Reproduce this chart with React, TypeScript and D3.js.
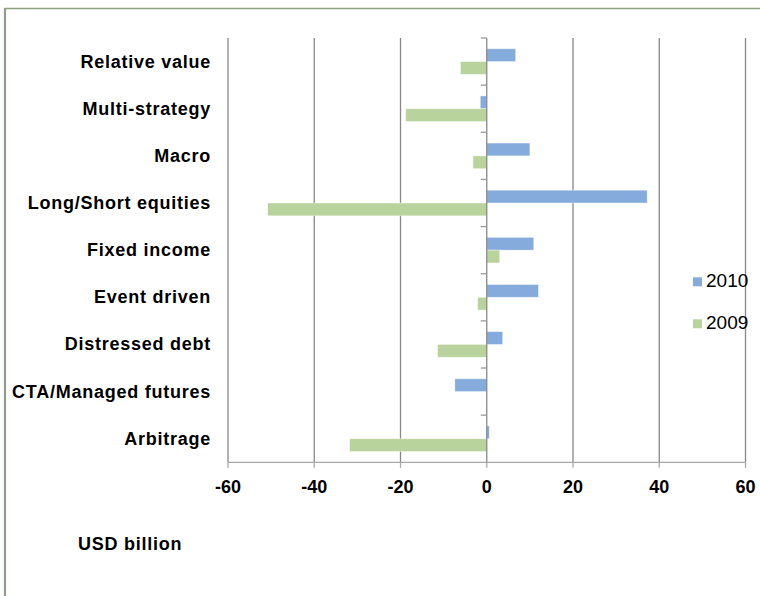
import React from "react";
import * as d3 from "d3";

const categories = [
  "Relative value",
  "Multi-strategy",
  "Macro",
  "Long/Short equities",
  "Fixed income",
  "Event driven",
  "Distressed debt",
  "CTA/Managed futures",
  "Arbitrage",
];
const values2010 = [6.7, -1.5, 10.0, 37.2, 10.9, 12.0, 3.7, -7.4, 0.6];
const values2009 = [-6.1, -18.8, -3.2, -50.8, 3.0, -2.1, -11.4, 0, -31.8];
const xTicks = [-60, -40, -20, 0, 20, 40, 60];
const seriesNames = ["2010", "2009"];
const seriesColors = ["#84ABDC", "#B9D39C"];

const W = 760;
const H = 596;
const plotLeft = 228;
const plotRight = 745.5;
const plotTop = 38;
const plotBottom = 462.3;

export default function App() {
  const x = d3.scaleLinear().domain([-60, 60]).range([plotLeft, plotRight]);
  const y = d3
    .scaleBand<string>()
    .domain(categories)
    .range([plotTop, plotBottom])
    .paddingInner(0)
    .paddingOuter(0);
  const bw = y.bandwidth();
  const barH = 12.8;
  const groupOffset = (bw - 2 * barH) / 2;
  const x0 = x(0);
  const series = [values2010, values2009];
  const font = "'Liberation Sans', Arial, sans-serif";

  return (
    <svg
      width={W}
      height={H}
      style={{ position: "absolute", left: 0, top: 0, background: "#fff" }}
    >
      {/* frame */}
      <line x1={4.5} x2={W} y1={8.5} y2={8.5} stroke="#8DA27A" strokeWidth={1.6} />
      <line x1={5} x2={5} y1={8} y2={H} stroke="#909C8C" strokeWidth={2.2} />

      {/* gridlines */}
      {xTicks.map((t) =>
        t === 0 ? null : (
          <line
            key={"g" + t}
            x1={x(t)}
            x2={x(t)}
            y1={plotTop}
            y2={plotBottom}
            stroke="#878787"
            strokeWidth={1.3}
          />
        )
      )}

      {/* bars */}
      {categories.map((c, i) =>
        series.map((vals, s) => {
          const v = vals[i];
          if (v === 0) return null;
          const bx = Math.min(x(v), x0);
          const w = Math.abs(x(v) - x0);
          const by = (y(c) as number) + groupOffset + s * barH;
          return (
            <rect
              key={c + s}
              x={bx}
              y={by}
              width={w}
              height={barH}
              fill={seriesColors[s]}
              stroke="#ffffff"
              strokeOpacity={0.5}
              strokeWidth={0.8}
            />
          );
        })
      )}

      {/* bottom axis */}
      <line x1={plotLeft} x2={plotRight} y1={plotBottom} y2={plotBottom} stroke="#A8A8A8" strokeWidth={1.3} />
      {xTicks.map((t) => (
        <g key={"t" + t}>
          <line x1={x(t)} x2={x(t)} y1={plotBottom} y2={plotBottom + 5.5} stroke="#A8A8A8" strokeWidth={1.3} />
          <text
            x={x(t)}
            y={492.7}
            textAnchor="middle"
            fontFamily={font}
            fontWeight="bold"
            fontSize={18}
            fill="#000"
          >
            {t}
          </text>
        </g>
      ))}

      {/* category axis at zero */}
      <line x1={x0} x2={x0} y1={plotTop} y2={plotBottom} stroke="#888888" strokeWidth={1.3} />
      {categories.map((c, i) => (
        <line
          key={"ct" + i}
          x1={x0 - 6}
          x2={x0}
          y1={y(c) as number}
          y2={y(c) as number}
          stroke="#999999"
          strokeWidth={1.3}
        />
      ))}

      {/* category labels */}
      {categories.map((c) => (
        <text
          key={"l" + c}
          x={211}
          y={(y(c) as number) + bw / 2 + 6}
          textAnchor="end"
          fontFamily={font}
          fontWeight="bold"
          fontSize={18}
          letterSpacing={0.75}
          fill="#000"
        >
          {c}
        </text>
      ))}

      {/* unit label */}
      <text x={78} y={550} fontFamily={font} fontWeight="bold" fontSize={18} letterSpacing={0.75} fill="#000">
        USD billion
      </text>

      {/* legend */}
      {seriesNames.map((n, s) => (
        <g key={"lg" + n}>
          <rect x={693} y={277.3 + s * 42} width={9} height={9} fill={seriesColors[s]} />
          <text x={706} y={286.9 + s * 41.6} fontFamily={font} fontSize={19} fill="#000">
            {n}
          </text>
        </g>
      ))}
    </svg>
  );
}
